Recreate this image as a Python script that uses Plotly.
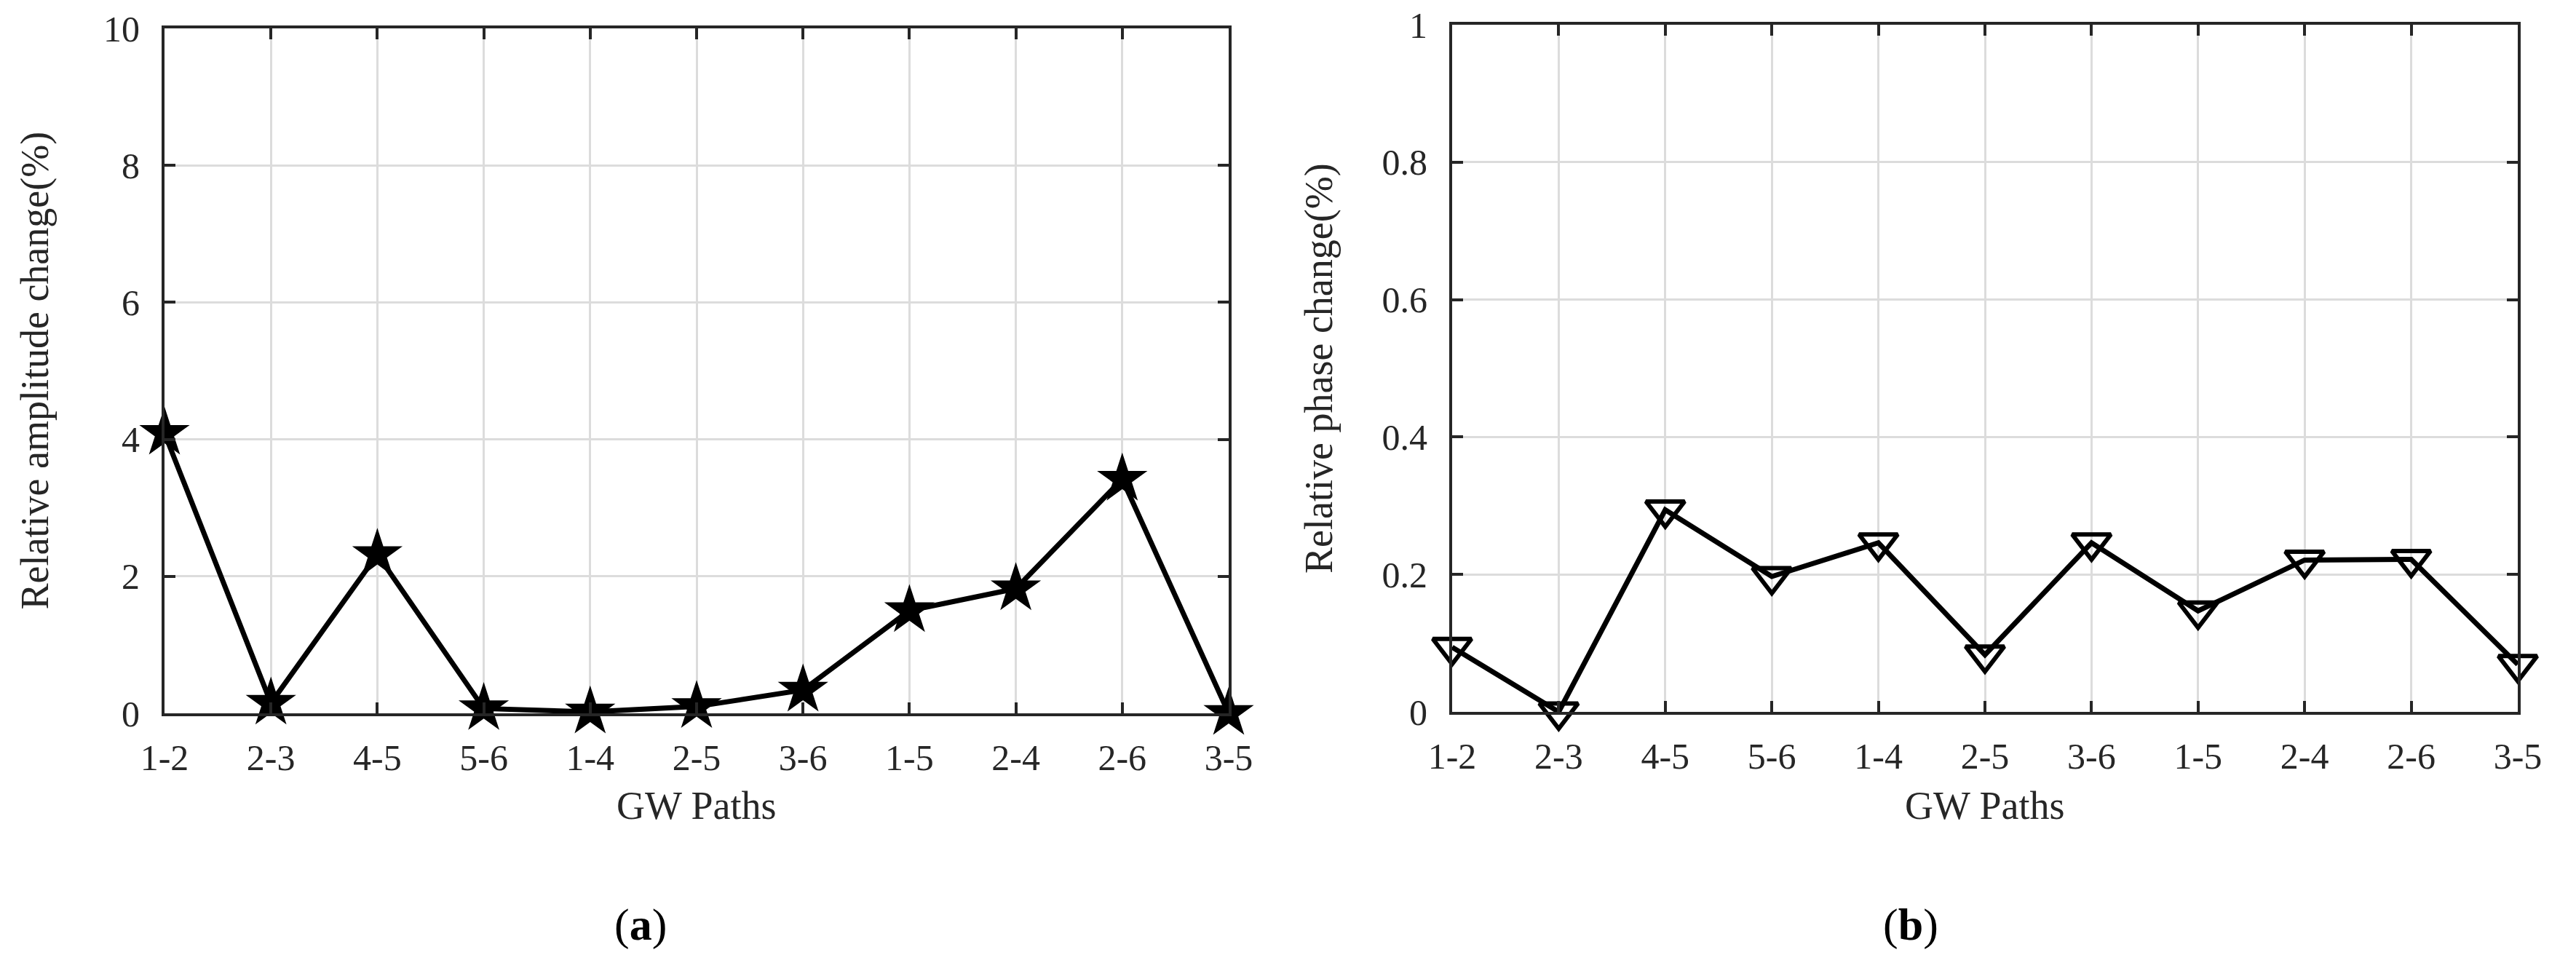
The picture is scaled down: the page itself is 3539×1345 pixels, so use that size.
import plotly.graph_objects as go

paths = ["1-2", "2-3", "4-5", "5-6", "1-4", "2-5", "3-6", "1-5", "2-4", "2-6", "3-5"]
amplitude_change = [4.09, 0.15, 2.32, 0.07, 0.02, 0.10, 0.34, 1.50, 1.82, 3.42, 0.0]
phase_change = [0.094, 0.0, 0.294, 0.197, 0.246, 0.083, 0.246, 0.147, 0.221, 0.222, 0.069]
amp_ticks = [0, 2, 4, 6, 8, 10]
phase_ticks = [0, 0.2, 0.4, 0.6, 0.8, 1]

W, H = 3539, 1345
FONT = "Liberation Serif"
AX = "#262626"

def fx(px):
    return px / W

def fy(py):
    return 1 - py / H

L = dict(x0=226, x1=1688, y0=39, y1=980)
R = dict(x0=1995, x1=3459, y0=34, y1=978)

fig = go.Figure()
fig.add_trace(go.Scatter(
    x=paths, y=amplitude_change, mode="lines+markers", xaxis="x", yaxis="y",
    line=dict(color="black", width=7),
    marker=dict(symbol="star", size=52, color="black"),
    cliponaxis=False, showlegend=False))
fig.add_trace(go.Scatter(
    x=paths, y=phase_change, mode="lines+markers", xaxis="x2", yaxis="y2",
    line=dict(color="black", width=7),
    marker=dict(symbol="triangle-down-open", size=46, color="black", line=dict(width=6, color="black")),
    cliponaxis=False, showlegend=False))

common_x = dict(type="category", range=[0, len(paths) - 1], showgrid=True, gridcolor="#dcdcdc", gridwidth=3,
                showline=True, linecolor=AX, linewidth=4, mirror="ticks", ticks="inside", ticklen=15,
                tickwidth=4, tickcolor=AX, tickfont=dict(family=FONT, size=50, color=AX), zeroline=False,
                categoryorder="array", categoryarray=paths, automargin=False, ticklabelstandoff=14)
common_y = dict(showgrid=True, gridcolor="#dcdcdc", gridwidth=3,
                showline=True, linecolor=AX, linewidth=4, mirror="ticks", ticks="inside", ticklen=15,
                tickwidth=4, tickcolor=AX, tickfont=dict(family=FONT, size=50, color=AX), zeroline=False,
                automargin=False, ticklabelstandoff=20)

fig.update_layout(
    width=W, height=H, margin=dict(l=0, r=0, t=0, b=0),
    paper_bgcolor="white", plot_bgcolor="white",
    xaxis=dict(domain=[fx(L["x0"]), fx(L["x1"])], anchor="y", **common_x),
    yaxis=dict(domain=[fy(L["y1"]), fy(L["y0"])], anchor="x", range=[0, 10], tickvals=amp_ticks, **common_y),
    xaxis2=dict(domain=[fx(R["x0"]), fx(R["x1"])], anchor="y2", **common_x),
    yaxis2=dict(domain=[fy(R["y1"]), fy(R["y0"])], anchor="x2", range=[0, 1], tickvals=phase_ticks,
                ticktext=[str(v) if v not in (0, 1) else str(int(v)) for v in phase_ticks], **common_y),
)

ann = []
ann.append(dict(text="GW Paths", x=fx((L["x0"] + L["x1"]) / 2), y=fy(1107), xref="paper", yref="paper",
                showarrow=False, font=dict(family=FONT, size=54, color=AX), xanchor="center", yanchor="middle"))
ann.append(dict(text="GW Paths", x=fx((R["x0"] + R["x1"]) / 2), y=fy(1107), xref="paper", yref="paper",
                showarrow=False, font=dict(family=FONT, size=54, color=AX), xanchor="center", yanchor="middle"))
ann.append(dict(text="Relative amplitude change(%)", x=fx(47), y=fy((L["y0"] + L["y1"]) / 2), xref="paper",
                yref="paper", showarrow=False, textangle=-90, font=dict(family=FONT, size=54, color=AX),
                xanchor="center", yanchor="middle"))
ann.append(dict(text="Relative phase change(%)", x=fx(1812), y=fy((R["y0"] + R["y1"]) / 2), xref="paper",
                yref="paper", showarrow=False, textangle=-90, font=dict(family=FONT, size=54, color=AX),
                xanchor="center", yanchor="middle"))
ann.append(dict(text="(<b>a</b>)", x=fx(880), y=fy(1270), xref="paper", yref="paper", showarrow=False,
                font=dict(family=FONT, size=62, color="black"), xanchor="center", yanchor="middle"))
ann.append(dict(text="(<b>b</b>)", x=fx(2625), y=fy(1270), xref="paper", yref="paper", showarrow=False,
                font=dict(family=FONT, size=62, color="black"), xanchor="center", yanchor="middle"))
fig.update_layout(annotations=ann)

fig.write_html("out.html", config={"displayModeBar": False},
               post_script="document.body.style.margin='0';")
